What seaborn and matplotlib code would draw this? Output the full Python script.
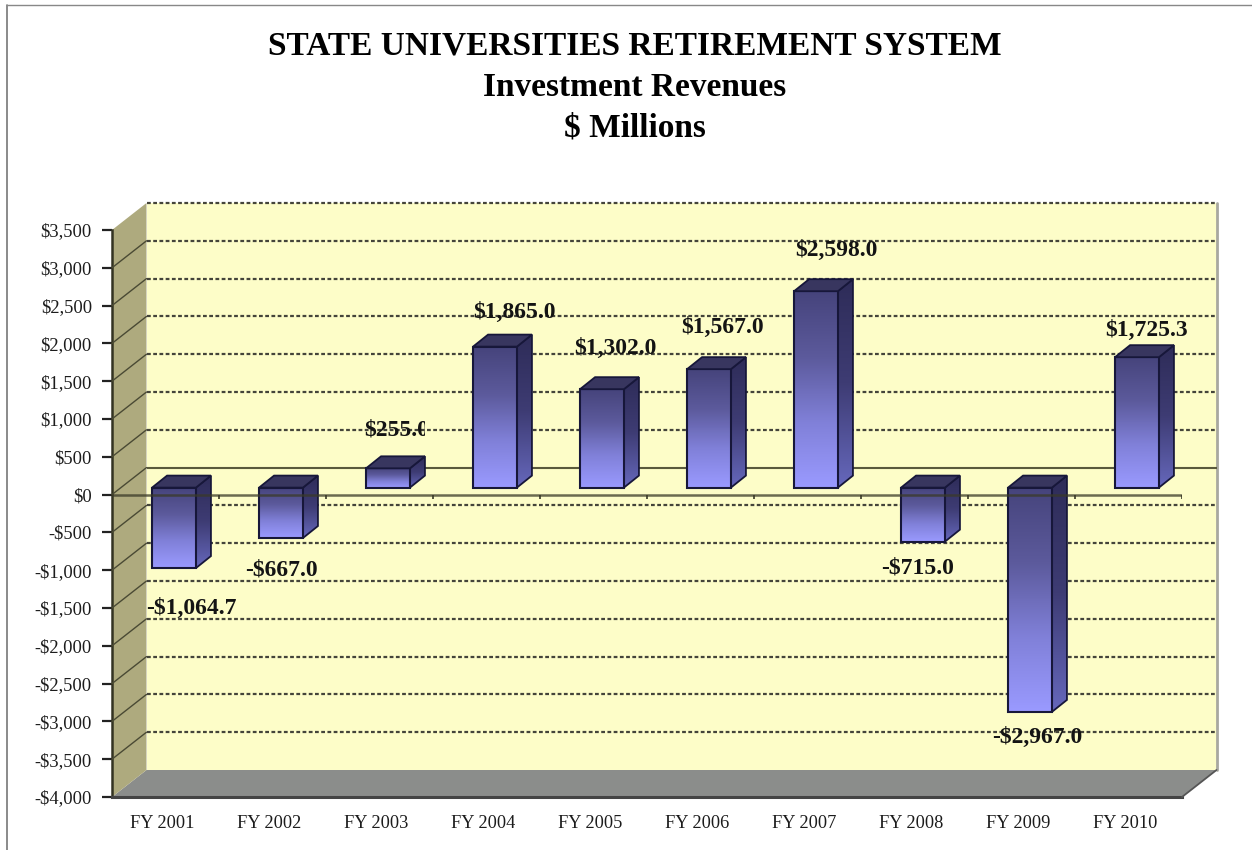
import numpy as np
import pandas as pd
import matplotlib.pyplot as plt
import matplotlib.transforms as mtransforms
from matplotlib.colors import LinearSegmentedColormap
from matplotlib.lines import Line2D
from matplotlib.patches import Polygon
import seaborn as sns

years = ['FY 2001', 'FY 2002', 'FY 2003', 'FY 2004', 'FY 2005',
         'FY 2006', 'FY 2007', 'FY 2008', 'FY 2009', 'FY 2010']
revenues = [-1064.7, -667.0, 255.0, 1865.0, 1302.0, 1567.0, 2598.0, -715.0, -2967.0, 1725.3]
value_labels = ['-$1,064.7', '-$667.0', '$255.0', '$1,865.0', '$1,302.0',
                '$1,567.0', '$2,598.0', '-$715.0', '-$2,967.0', '$1,725.3']
y_ticks = [3500, 3000, 2500, 2000, 1500, 1000, 500, 0, -500, -1000,
           -1500, -2000, -2500, -3000, -3500, -4000]
y_labels = ['$3,500', '$3,000', '$2,500', '$2,000', '$1,500', '$1,000', '$500', '$0', '-$500',
            '-$1,000', '-$1,500', '-$2,000', '-$2,500', '-$3,000', '-$3,500', '-$4,000']
title_lines = ['STATE UNIVERSITIES RETIREMENT SYSTEM', 'Investment Revenues', '$ Millions']

# label offsets from the end of each bar, pixels
label_dx = [17, 0, 9, 19, 13, 13, 20, -5, 7, 9]
label_dy = [-40, -32, 38, 34, 41, 42, 41, -26, -26, 27]

W, H = 1252, 850
sns.set_style('white')
plt.rcParams['font.family'] = ['Liberation Serif', 'DejaVu Serif']

fig = plt.figure(figsize=(W / 100, H / 100), dpi=100)
ax = fig.add_axes([112 / W, 1 - 797 / H, 1070 / W, 567 / H])
ax.patch.set_alpha(0)

df = pd.DataFrame({'year': years, 'revenue': revenues})
sns.barplot(data=df, x='year', y='revenue', ax=ax, width=0.41, color='#7070c0', zorder=6)
bars = list(ax.containers[0])
ax.set_xlim(-0.5, 9.5)
ax.set_ylim(-4000, 3500)
ax.set_autoscale_on(False)
ax.set_xlabel('')
ax.set_ylabel('')

px_x = 10 / 1070   # categories per pixel
px_y = 7500 / 567  # dollars per pixel

# chart box in perspective
back_x = 34.5 * px_x
back_y = 27 * px_y
x0, x1 = -0.5, 9.5
y0, y1 = -4000, 3500
ax.add_patch(Polygon([(x0 + back_x, y0 + back_y), (x1 + back_x, y0 + back_y),
                      (x1 + back_x, y1 + back_y), (x0 + back_x, y1 + back_y)],
                     fc='#fdfdc8', ec='none', clip_on=False, zorder=1))
ax.add_patch(Polygon([(x0, y0), (x1, y0), (x1 + back_x, y0 + back_y), (x0 + back_x, y0 + back_y)],
                     fc='#8b8d8b', ec='none', clip_on=False, zorder=2))
ax.add_patch(Polygon([(x0, y0), (x0 + back_x, y0 + back_y), (x0 + back_x, y1 + back_y), (x0, y1)],
                     fc='#aeaa7e', ec='none', clip_on=False, zorder=2))
ax.plot([x1 + back_x, x1 + back_x], [y0 + back_y, y1 + back_y], color='#a8a8a0', lw=2,
        clip_on=False, zorder=2)
ax.plot([x1, x1 + back_x], [y0, y0 + back_y], color='#555555', lw=1.3, clip_on=False, zorder=3)

t_back = mtransforms.offset_copy(ax.transData, fig, x=34.5, y=27, units='dots')
for v in y_ticks:
    if v == -4000:
        continue
    if v == 0:
        ax.hlines(v, x0, x1, transform=t_back, color='#5a5a3c', lw=1.5, clip_on=False, zorder=3)
    else:
        ax.hlines(v, x0, x1, transform=t_back, color='#44443a', lw=1.6,
                  linestyles=(0, (1.7, 1.1)), clip_on=False, zorder=3)
    if v != 3500:
        ax.plot([x0, x0 + back_x], [v, v + back_y], color='#4a4a34', lw=1.0, clip_on=False, zorder=3)

# front axis
ax.axhline(0, color='#3a3a28', lw=1.8, alpha=0.75, zorder=8)
ax.vlines(np.arange(0.5, 10), -55, 0, color='#3a3a28', lw=1.2, zorder=8)
for name in ['top', 'right']:
    ax.spines[name].set_visible(False)
ax.spines['left'].set_color('#333322')
ax.spines['left'].set_linewidth(1.8)
ax.spines['bottom'].set_color('#444444')
ax.spines['bottom'].set_linewidth(2.2)
ax.set_yticks(y_ticks, y_labels)
ax.set_xticks(range(10), years)
ax.tick_params(axis='y', left=True, length=7, width=1.6, color='#222222', labelsize=13.3,
               labelcolor='#1c1c1c', pad=7.5)
ax.tick_params(axis='x', bottom=False, labelsize=13.2, labelcolor='#1c1c1c', pad=9.5)
shift = mtransforms.ScaledTranslation(-3.5 / 100, 0, fig.dpi_scale_trans)
for lab in ax.get_xticklabels():
    lab.set_transform(lab.get_transform() + shift)

# bars, moved into the middle of the box depth, with shaded faces
t_bar = mtransforms.offset_copy(ax.transData, fig, x=8.5, y=7, units='dots')
front_cmap = LinearSegmentedColormap.from_list('front', ['#46447c', '#5c5a9c', '#8080d8', '#9a9aff'])
side_cmap = LinearSegmentedColormap.from_list('side', ['#2e2c58', '#3e3c74', '#6668bc'])
ramp = np.linspace(0, 1, 128)[:, None]
depth_x = 15 * px_x
depth_y = 12 * px_y
edge = '#17173a'

for i, bar in enumerate(bars):
    left = bar.get_x()
    right = left + bar.get_width()
    low = min(bar.get_y(), bar.get_y() + bar.get_height())
    high = max(bar.get_y(), bar.get_y() + bar.get_height())

    ax.imshow(ramp, cmap=front_cmap, aspect='auto', extent=(left, right, low, high),
              transform=t_bar, zorder=5)
    side = Polygon([(right, low), (right + depth_x, low + depth_y),
                    (right + depth_x, high + depth_y), (right, high)],
                   transform=t_bar, fc='none', ec=edge, lw=1.3, zorder=6)
    ax.add_patch(side)
    side_img = ax.imshow(ramp, cmap=side_cmap, aspect='auto',
                         extent=(right, right + depth_x, low, high + depth_y),
                         transform=t_bar, zorder=5)
    side_img.set_clip_path(side)
    ax.add_patch(Polygon([(left, high), (right, high), (right + depth_x, high + depth_y),
                          (left + depth_x, high + depth_y)],
                         transform=t_bar, fc='#38365f', ec=edge, lw=1.3, zorder=6))
    bar.set_transform(t_bar)
    bar.set_facecolor('none')
    bar.set_edgecolor(edge)
    bar.set_linewidth(1.5)

    end = high if revenues[i] > 0 else low
    txt = ax.annotate(value_labels[i], xy=((left + right) / 2, end), xycoords=t_bar,
                      xytext=(label_dx[i] * 0.72, label_dy[i] * 0.72), textcoords='offset points',
                      ha='center', va='center', fontsize=17, fontweight='bold',
                      color='#141414', zorder=9, annotation_clip=False)
    if i == 2:
        # the FY 2003 label is cut off in the original
        txt.set_clip_box(mtransforms.Bbox([[0, 0], [425, H]]))
        txt.set_clip_on(True)

# title
for line, yp in zip(title_lines, [46, 88, 128]):
    fig.text(634.5 / W, 1 - yp / H, line, ha='center', va='center', fontsize=24, fontweight='bold',
             color='black')

# slide border
fig.add_artist(Line2D([6.5 / W, 6.5 / W], [0, 1 - 4.5 / H], color='#777777', lw=1.2))
fig.add_artist(Line2D([6.5 / W, 1], [1 - 4.5 / H, 1 - 4.5 / H], color='#888888', lw=1.0))

fig.savefig('out.png', dpi=100)
